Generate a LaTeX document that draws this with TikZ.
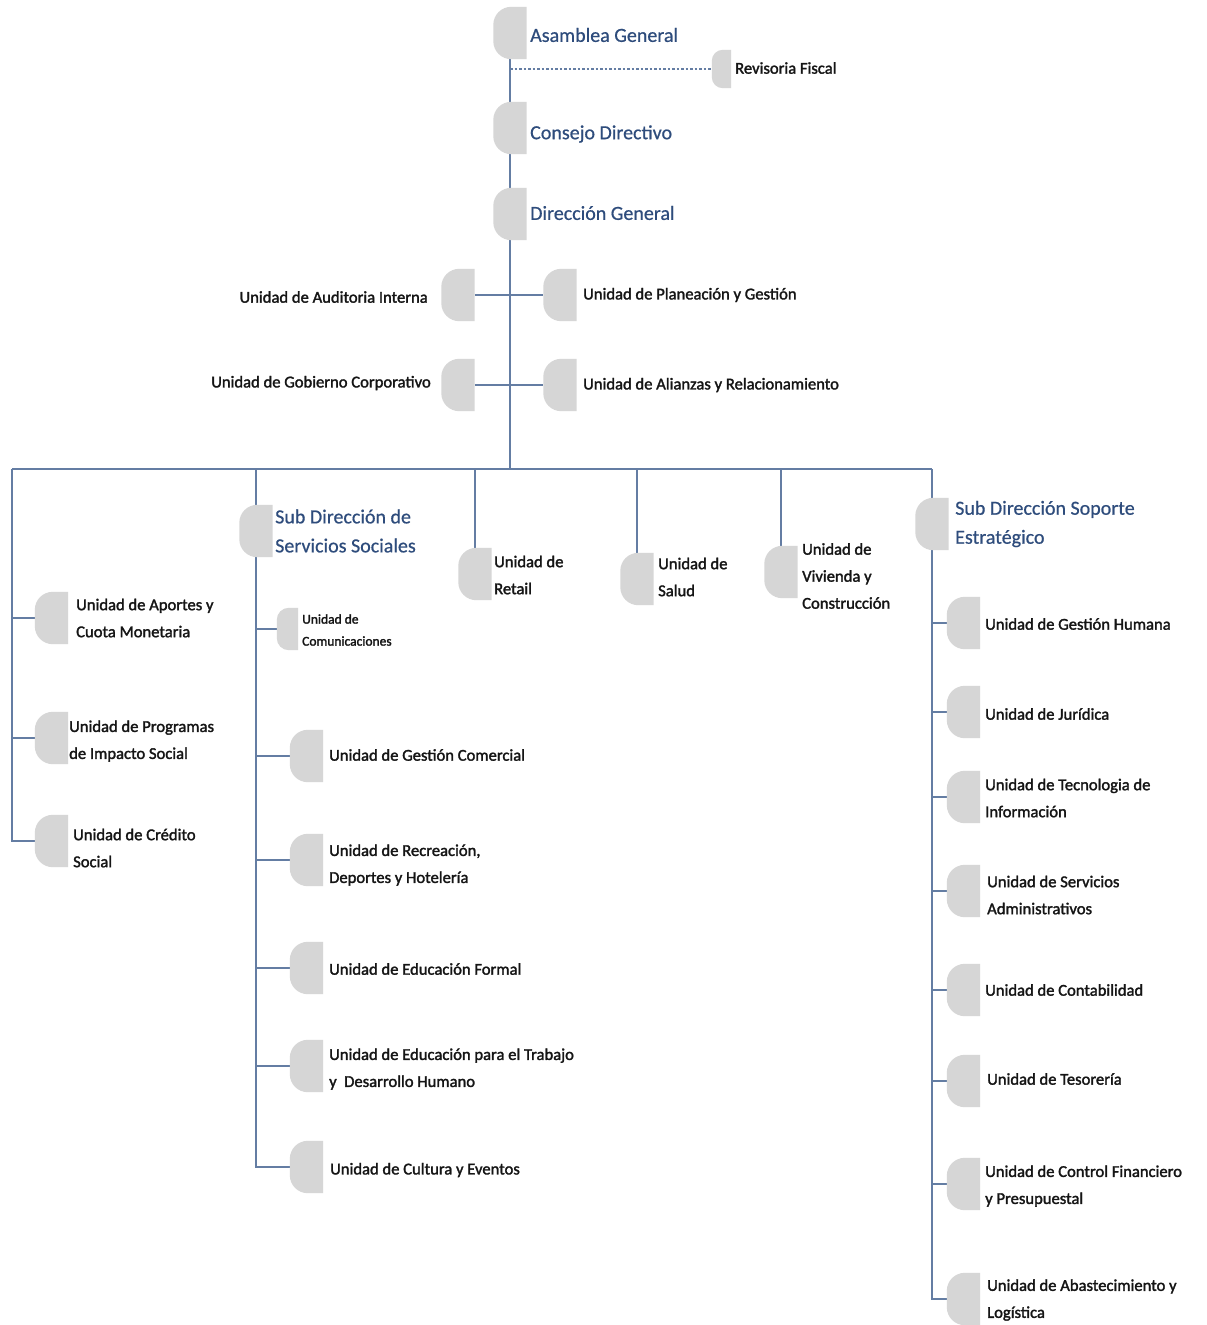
\documentclass[tikz,border=0pt]{standalone}
\usepackage{fontspec}
\setmainfont{Carlito}
\newfontfamily\unitfont{Carlito}[FakeBold=1.8]
\newfontfamily\titlefont{Carlito}[FakeBold=0.6]
\usetikzlibrary{calc}
\definecolor{tabgray}{HTML}{D6D6D6}
\definecolor{linecol}{HTML}{647DA3}
\definecolor{titleblue}{HTML}{2E4C7C}
\definecolor{textblack}{HTML}{151515}
\newcommand\tabfill[2]{%
  \fill[tabgray] (#1.north east) -- ($(#1.north west)+(#2,0)$)
    .. controls +({-0.552*#2},0) and +(0,{-0.552*#2}) .. ($(#1.north west)+(0,#2)$)
    -- ($(#1.south west)+(0,-#2)$)
    .. controls +(0,{0.552*#2}) and +({-0.552*#2},0) .. ($(#1.south west)+(#2,0)$)
    -- (#1.south east) -- cycle;}
\begin{document}
\begin{tikzpicture}[x=1pt,y=-1pt,
  tab/.style={rectangle,inner sep=0pt,minimum width=33pt,minimum height=52pt,draw=none},
  smalltab/.style={tab,minimum width=21pt,minimum height=42pt},
  rftab/.style={tab,minimum width=19pt,minimum height=38pt},
  title/.style={inner sep=0pt,align=left,text=titleblue,font=\titlefont\fontsize{20}{29}\selectfont},
  unit/.style={inner sep=0pt,align=left,text=textblack,font=\unitfont\fontsize{16.6}{27}\selectfont},
  smallunit/.style={inner sep=0pt,align=left,text=textblack,font=\unitfont\fontsize{13.5}{22}\selectfont},
  conn/.style={draw=linecol,line width=1.3pt},
  dashconn/.style={draw=linecol,line width=1.2pt,dash pattern=on 2.5pt off 2pt}]
\useasboundingbox (0,0) rectangle (1207,1325);
\fill[white] (0,0) rectangle (1207,1325);

% ---- tabs (nodes) ----
\node[tab] (ag) at (510,33) {};
\node[rftab] (rf) at (721.5,69) {};
\node[tab] (cd) at (510,128) {};
\node[tab] (dg) at (510,214) {};
\node[tab] (aud) at (458,295) {};
\node[tab] (pla) at (560,295) {};
\node[tab] (gob) at (458,385) {};
\node[tab] (ali) at (560,385) {};
\coordinate (bl) at (12,469);
\node[tab] (sds) at (256,531) {};
\node[tab] (ret) at (475,574) {};
\node[tab] (sal) at (637,579) {};
\node[tab] (viv) at (781,572) {};
\node[tab] (sse) at (932,524) {};
\node[tab] (ap) at (51.5,618) {};
\node[tab] (pro) at (51.5,738) {};
\node[tab] (cre) at (51.5,841) {};
\node[smalltab] (com) at (287.5,629) {};
\node[tab] (gc) at (306.5,756) {};
\node[tab] (rec) at (306.5,860) {};
\node[tab] (ef) at (306.5,968) {};
\node[tab] (et) at (306.5,1066) {};
\node[tab] (cu) at (306.5,1167) {};
\node[tab] (gh) at (963.5,623) {};
\node[tab] (ju) at (963.5,712) {};
\node[tab] (te) at (963.5,797) {};
\node[tab] (sa) at (963.5,891) {};
\node[tab] (co) at (963.5,990) {};
\node[tab] (ts) at (963.5,1081) {};
\node[tab] (cf) at (963.5,1184) {};
\node[tab] (ab) at (963.5,1299) {};

% ---- connectors ----
\draw[conn] (ag.south) -- (cd.north);
\draw[conn] (cd.south) -- (dg.north);
\draw[conn] (dg.south) -- (dg.south |- bl);
\draw[dashconn] (ag.south |- rf.west) -- (rf.west);
\draw[conn] (aud.east) -- (pla.west);
\draw[conn] (gob.east) -- (ali.west);
\draw[conn] (bl) -- (sse.north |- bl);
\draw[conn] (bl) |- (cre.west);
\draw[conn] (bl |- ap.west) -- (ap.west);
\draw[conn] (bl |- pro.west) -- (pro.west);
\draw[conn] (sds.north |- bl) -- (sds.north);
\draw[conn] (sds.south) |- (cu.west);
\draw[conn] (sds.south |- com.west) -- (com.west);
\draw[conn] (sds.south |- gc.west) -- (gc.west);
\draw[conn] (sds.south |- rec.west) -- (rec.west);
\draw[conn] (sds.south |- ef.west) -- (ef.west);
\draw[conn] (sds.south |- et.west) -- (et.west);
\draw[conn] (ret.north |- bl) -- (ret.north);
\draw[conn] (sal.north |- bl) -- (sal.north);
\draw[conn] (viv.north |- bl) -- (viv.north);
\draw[conn] (sse.north |- bl) -- (sse.north);
\draw[conn] (sse.south) |- (ab.west);
\draw[conn] (sse.south |- gh.west) -- (gh.west);
\draw[conn] (sse.south |- ju.west) -- (ju.west);
\draw[conn] (sse.south |- te.west) -- (te.west);
\draw[conn] (sse.south |- sa.west) -- (sa.west);
\draw[conn] (sse.south |- co.west) -- (co.west);
\draw[conn] (sse.south |- ts.west) -- (ts.west);
\draw[conn] (sse.south |- cf.west) -- (cf.west);

% ---- tab fills ----
\foreach \n in {ag,cd,dg,aud,pla,gob,ali,sds,ret,sal,viv,sse,ap,pro,cre,gc,rec,ef,et,cu,gh,ju,te,sa,co,ts,cf,ab}{\tabfill{\n}{18}}
\tabfill{rf}{11}
\tabfill{com}{12}

% ---- labels ----
\node[title,anchor=west] (agt) at (530,35) {Asamblea General};
\node[unit,anchor=west] (rft) at (735,68) {Revisoria Fiscal};
\node[title,anchor=west] (cdt) at (530,134) {Consejo Directivo};
\node[title,anchor=west] (dgt) at (530,213) {Dirección General};
\node[unit,anchor=east] (audt) at (428,297) {Unidad de Auditoria Interna};
\node[unit,anchor=west] (plat) at (583,295) {Unidad de Planeación y Gestión};
\node[unit,anchor=east] (gobt) at (431,383) {Unidad de Gobierno Corporativo};
\node[unit,anchor=west] (alit) at (583,385) {Unidad de Alianzas y Relacionamiento};
\node[title,anchor=west] (sdst) at (275,531) {Sub Dirección de\\Servicios Sociales};
\node[unit,anchor=west] (rett) at (494,575) {Unidad de\\Retail};
\node[unit,anchor=west] (salt) at (658,577) {Unidad de\\Salud};
\node[unit,anchor=west] (vivt) at (802,576) {Unidad de\\Vivienda y\\Construcción};
\node[title,anchor=west] (sset) at (955,524) {Sub Dirección Soporte\\Estratégico};
\node[unit,anchor=west] (apt) at (76,618) {Unidad de Aportes y\\Cuota Monetaria};
\node[unit,anchor=west] (prot) at (69,741) {Unidad de Programas\\de Impacto Social};
\node[unit,anchor=west] (cret) at (73,848) {Unidad de Crédito\\Social};
\node[smallunit,anchor=west] (comt) at (302,630) {Unidad de\\Comunicaciones};
\node[unit,anchor=west] (gct) at (329,755) {Unidad de Gestión Comercial};
\node[unit,anchor=west] (rect) at (329,865) {Unidad de Recreación,\\Deportes y Hotelería};
\node[unit,anchor=west] (eft) at (329,969) {Unidad de Educación Formal};
\node[unit,anchor=west] (ett) at (329,1069) {Unidad de Educación para el Trabajo\\y\ \ Desarrollo Humano};
\node[unit,anchor=west] (cut) at (330,1170) {Unidad de Cultura y Eventos};
\node[unit,anchor=west] (ght) at (985,624) {Unidad de Gestión Humana};
\node[unit,anchor=west] (jut) at (985,714) {Unidad de Jurídica};
\node[unit,anchor=west] (tet) at (985,798) {Unidad de Tecnologia de\\Información};
\node[unit,anchor=west] (sat) at (987,895) {Unidad de Servicios\\Administrativos};
\node[unit,anchor=west] (cot) at (985,990) {Unidad de Contabilidad};
\node[unit,anchor=west] (tst) at (987,1079) {Unidad de Tesorería};
\node[unit,anchor=west] (cft) at (985,1186) {Unidad de Control Financiero\\y Presupuestal};
\node[unit,anchor=west] (abt) at (987,1300) {Unidad de Abastecimiento y\\Logística};
\end{tikzpicture}
\end{document}
